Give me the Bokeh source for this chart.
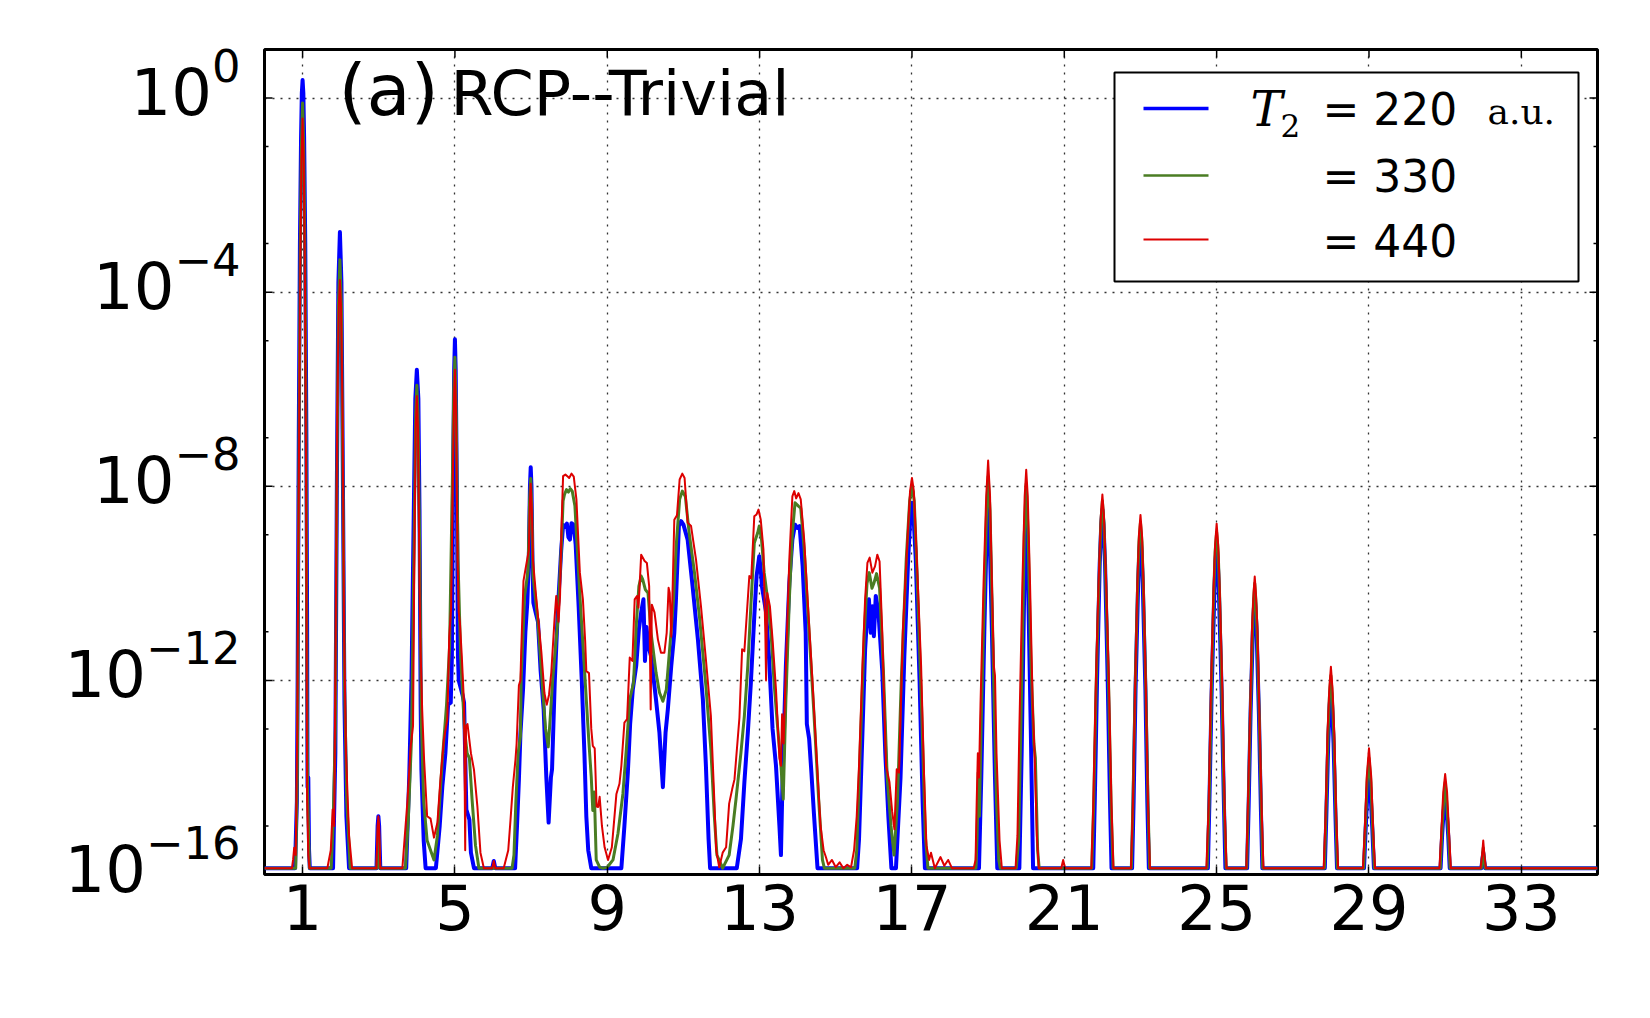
from bokeh.plotting import figure
from bokeh.models import (ColumnDataSource, Range1d, LogAxis, LinearAxis, FixedTicker, Label, Grid,
                          LogScale)
from bokeh.embed import file_html
from bokeh.resources import INLINE

F = -15.87  # noise floor (log10 intensity)

# (harmonic order, log10 intensity)
blue_pts = [
    (0.0, F), (0.8, F), (0.85, -14.5), (0.87, -12.0), (0.9, -7.0), (0.93, -3.0), (0.96, -0.8), (0.98, 0.1),
    (1.0, 0.37), (1.02, 0.1), (1.04, -0.8), (1.07, -3.0), (1.1, -7.0), (1.12, -11.0), (1.13, -14.2),
    (1.15, -14.0), (1.17, -15.5), (1.19, F),
    (1.8, F), (1.86, -13.5), (1.9, -8.0), (1.94, -3.8), (1.98, -2.76), (2.02, -3.8), (2.06, -8.0),
    (2.1, -12.5), (2.15, -14.8), (2.22, F),
    (2.94, F), (2.97, -15.0), (2.99, -14.8), (3.01, -15.0), (3.04, F),
    (3.72, F), (3.8, -14.0), (3.86, -12.0), (3.92, -8.5), (3.96, -6.2), (4.0, -5.6), (4.04, -6.2),
    (4.07, -8.5), (4.1, -12.5), (4.12, -13.84), (4.18, -15.3), (4.23, F), (4.5, F), (4.6, -15.0),
    (4.67, -14.18), (4.75, -13.5), (4.82, -12.5), (4.89, -12.46), (4.92, -11.5), (4.95, -8.0),
    (4.98, -5.6), (5.0, -4.97), (5.02, -5.6), (5.05, -8.0), (5.08, -11.5), (5.1, -12.0), (5.2, -12.3),
    (5.24, -12.46), (5.3, -14.66), (5.38, -14.87), (5.42, -15.55), (5.5, F),
    (5.98, F), (6.02, -15.72), (6.06, F),
    (6.58, F), (6.63, -15.0), (6.68, -14.04), (6.72, -13.1), (6.79, -12.16), (6.85, -11.0), (6.9, -10.4),
    (6.94, -9.5), (6.97, -8.0), (6.99, -7.61), (7.01, -8.0), (7.04, -9.8), (7.06, -10.4), (7.12, -10.6),
    (7.18, -10.79), (7.25, -11.8), (7.33, -12.6), (7.4, -14.0), (7.46, -14.93), (7.52, -14.0),
    (7.55, -13.83), (7.62, -12.05), (7.7, -10.58), (7.79, -9.32), (7.84, -8.8), (7.88, -8.84),
    (7.94, -8.77), (7.98, -9.05), (8.02, -9.1), (8.06, -8.76), (8.12, -8.8), (8.17, -9.2), (8.25, -10.5),
    (8.33, -12.0), (8.4, -13.5), (8.45, -14.8), (8.5, -15.5), (8.58, F),
    (9.37, F), (9.45, -15.0), (9.54, -13.9), (9.6, -12.9), (9.67, -12.19), (9.76, -11.7), (9.83, -10.95),
    (9.89, -10.6), (9.95, -10.33), (9.99, -11.6), (10.03, -10.9), (10.08, -11.3), (10.15, -11.5),
    (10.28, -12.4), (10.37, -13.08), (10.46, -14.2), (10.53, -13.08), (10.59, -12.6), (10.68, -11.7),
    (10.76, -11.02), (10.8, -10.4), (10.88, -8.82), (10.94, -8.72), (11.0, -8.79), (11.11, -9.1),
    (11.24, -10.06), (11.38, -11.16), (11.51, -12.39), (11.59, -13.76), (11.66, -15.27), (11.7, F),
    (12.4, F), (12.51, -15.27), (12.6, -14.1), (12.69, -13.08), (12.77, -12.05), (12.86, -10.68),
    (12.92, -9.85), (12.99, -9.44), (13.03, -9.72), (13.06, -10.06), (13.17, -10.6), (13.25, -11.57),
    (13.34, -13.0), (13.43, -13.76), (13.52, -15.0), (13.56, -15.6), (13.6, -14.1), (13.69, -11.7),
    (13.78, -9.99), (13.86, -9.1), (13.93, -8.79), (13.99, -8.86), (14.05, -8.82), (14.13, -9.65),
    (14.21, -11.02), (14.24, -12.9), (14.3, -13.2), (14.36, -13.9), (14.43, -14.79), (14.52, F),
    (15.56, F), (15.61, -15.27), (15.7, -13.08), (15.77, -11.36), (15.83, -10.6), (15.87, -10.33),
    (15.92, -11.02), (15.96, -10.47), (16.0, -11.09), (16.05, -10.26), (16.12, -10.6), (16.22, -11.8),
    (16.3, -13.5), (16.38, -14.8), (16.46, F), (16.58, F), (16.7, -14.0), (16.8, -11.5), (16.9, -9.5),
    (16.96, -8.6), (17.0, -8.34), (17.04, -8.6), (17.1, -9.5), (17.2, -12.0), (17.28, -14.5), (17.34, F),
    (18.76, F), (18.82, -14.0), (18.9, -11.0), (18.96, -9.0), (19.0, -8.3), (19.04, -9.0), (19.1, -11.0),
    (19.18, -14.0), (19.24, F),
    (19.82, F), (19.88, -13.5), (19.95, -10.0), (20.0, -8.55), (20.05, -10.0), (20.12, -13.0), (20.18, F),
    (21.76, F), (21.8, -14.5), (21.86, -12.0), (21.93, -9.6), (21.97, -8.8), (22.0, -8.48), (22.03, -8.8),
    (22.07, -9.6), (22.14, -12.0), (22.2, -14.5), (22.24, F),
    (22.78, F), (22.82, -14.5), (22.87, -12.2), (22.94, -10.0), (22.97, -9.35), (23.0, -9.05),
    (23.03, -9.35), (23.06, -10.0), (23.13, -12.2), (23.18, -14.5), (23.22, F),
    (24.77, F), (24.81, -14.5), (24.87, -12.2), (24.94, -10.2), (24.97, -9.55), (25.0, -9.25),
    (25.03, -9.55), (25.06, -10.2), (25.13, -12.2), (25.19, -14.5), (25.23, F),
    (25.8, F), (25.84, -14.6), (25.89, -12.7), (25.95, -11.0), (25.98, -10.5), (26.0, -10.3),
    (26.02, -10.5), (26.05, -11.0), (26.11, -12.7), (26.16, -14.6), (26.2, F),
    (27.84, F), (27.88, -14.8), (27.93, -13.3), (27.97, -12.5), (28.0, -12.2), (28.03, -12.5),
    (28.07, -13.3), (28.12, -14.8), (28.16, F),
    (28.87, F), (28.91, -15.1), (28.96, -14.3), (29.0, -13.95), (29.04, -14.3), (29.09, -15.1), (29.13, F),
    (30.88, F), (30.92, -15.2), (30.96, -14.7), (31.0, -14.45), (31.04, -14.7), (31.08, -15.2), (31.12, F),
    (31.95, F), (32.0, -15.55), (32.05, F),
    (35.0, F),
]

green_pts = [
    (0.0, F), (0.82, F), (0.86, -14.0), (0.88, -11.5), (0.91, -6.5), (0.94, -3.0), (0.97, -1.0),
    (1.0, -0.1), (1.03, -1.0), (1.06, -3.0), (1.09, -6.5), (1.11, -11.0), (1.13, -14.3), (1.16, -15.2),
    (1.18, F),
    (1.75, F), (1.8, -15.0), (1.86, -13.0), (1.9, -8.0), (1.94, -4.3), (1.98, -3.33), (2.02, -4.3),
    (2.06, -8.0), (2.1, -12.0), (2.16, -14.5), (2.25, F),
    (2.95, F), (2.99, -15.0), (3.03, F),
    (3.7, F), (3.78, -14.8), (3.86, -13.2), (3.93, -9.0), (3.97, -6.5), (4.0, -5.92), (4.03, -6.5),
    (4.07, -9.0), (4.12, -12.9), (4.18, -14.5), (4.27, -15.3), (4.45, -15.7), (4.54, -15.2),
    (4.67, -13.63), (4.78, -12.5), (4.86, -11.3), (4.93, -8.0), (4.97, -6.0), (5.0, -5.34), (5.03, -6.3),
    (5.08, -9.5), (5.15, -11.5), (5.25, -13.0), (5.32, -13.5), (5.38, -13.6), (5.45, -14.45),
    (5.54, -15.4), (5.63, F),
    (6.5, F), (6.55, -15.6), (6.6, -14.5), (6.66, -13.5), (6.72, -13.15), (6.74, -11.95), (6.83, -10.26),
    (6.92, -9.74), (6.96, -8.3), (6.99, -7.84), (7.02, -8.5), (7.05, -9.84), (7.18, -10.79),
    (7.31, -12.26), (7.38, -13.0), (7.45, -13.37), (7.5, -12.8), (7.57, -11.95), (7.7, -10.79),
    (7.79, -9.32), (7.84, -8.3), (7.88, -8.16), (7.93, -8.07), (7.98, -8.12), (8.03, -8.05), (8.08, -8.1),
    (8.15, -8.4), (8.22, -9.4), (8.3, -10.5), (8.38, -11.5), (8.45, -12.4), (8.52, -13.3), (8.58, -14.0),
    (8.62, -14.68), (8.66, -14.3), (8.71, -15.7), (8.8, -15.85), (8.89, F), (9.0, -15.85), (9.15, -15.7),
    (9.28, -15.16), (9.41, -14.34), (9.5, -13.42), (9.59, -12.39), (9.69, -12.05), (9.76, -10.88),
    (9.83, -10.06), (9.89, -9.85), (9.93, -9.92), (10.0, -10.13), (10.07, -10.2), (10.15, -11.02),
    (10.28, -11.84), (10.37, -12.25), (10.46, -12.43), (10.55, -12.19), (10.63, -11.43), (10.68, -10.95),
    (10.74, -10.33), (10.81, -9.23), (10.9, -8.27), (10.97, -8.1), (11.05, -8.21), (11.15, -8.96),
    (11.29, -9.78), (11.42, -10.68), (11.59, -12.12), (11.72, -13.42), (11.81, -14.79), (11.88, -15.6),
    (12.03, F), (12.2, -15.6), (12.3, -15.0), (12.38, -14.45), (12.51, -13.49), (12.6, -12.73),
    (12.69, -11.7), (12.77, -10.47), (12.86, -9.17), (12.95, -8.96), (12.99, -8.82), (13.05, -9.1),
    (13.12, -9.78), (13.21, -10.33), (13.3, -11.02), (13.38, -12.05), (13.47, -12.94), (13.56, -13.76),
    (13.62, -14.45), (13.69, -12.39), (13.78, -10.33), (13.86, -8.96), (13.93, -8.34), (14.02, -8.41),
    (14.08, -8.45), (14.17, -9.3), (14.3, -11.02), (14.43, -12.73), (14.55, -14.45), (14.65, -15.7),
    (14.7, F),
    (15.5, F), (15.55, -15.5), (15.65, -13.2), (15.75, -11.0), (15.82, -10.0), (15.88, -9.78),
    (15.95, -10.1), (16.0, -10.0), (16.07, -9.8), (16.15, -10.1), (16.25, -11.8), (16.35, -14.0),
    (16.45, -15.0), (16.53, -15.6), (16.62, -14.5), (16.72, -12.0), (16.85, -9.5), (16.94, -8.3),
    (17.0, -8.0), (17.06, -8.3), (17.12, -9.5), (17.25, -12.5), (17.35, -15.2), (17.42, F),
    (18.68, F), (18.71, -15.2), (18.74, -13.9), (18.77, -14.8), (18.82, -12.8), (18.9, -10.2),
    (18.96, -8.5), (19.0, -7.8), (19.05, -8.5), (19.1, -10.3), (19.16, -12.5), (19.22, -14.5),
    (19.28, -15.7), (19.32, F),
    (19.74, F), (19.8, -15.3), (19.87, -12.5), (19.95, -9.0), (20.0, -7.95), (20.05, -9.0),
    (20.12, -11.5), (20.2, -13.3), (20.24, -13.6), (20.3, -15.5), (20.34, F),
    (21.72, F), (21.77, -14.6), (21.84, -12.0), (21.91, -10.0), (21.96, -8.75), (22.0, -8.3),
    (22.04, -8.75), (22.09, -10.0), (22.16, -12.0), (22.23, -14.6), (22.28, F),
    (22.76, F), (22.8, -14.6), (22.86, -12.2), (22.92, -10.2), (22.96, -9.15), (23.0, -8.75),
    (23.04, -9.15), (23.08, -10.2), (23.14, -12.2), (23.2, -14.6), (23.24, F),
    (24.75, F), (24.8, -14.6), (24.86, -12.3), (24.92, -10.3), (24.96, -9.35), (25.0, -8.95),
    (25.04, -9.35), (25.08, -10.3), (25.14, -12.3), (25.2, -14.6), (25.25, F),
    (25.79, F), (25.83, -14.6), (25.88, -12.8), (25.94, -11.0), (25.97, -10.35), (26.0, -10.0),
    (26.03, -10.35), (26.06, -11.0), (26.12, -12.8), (26.17, -14.6), (26.21, F),
    (27.83, F), (27.87, -14.8), (27.92, -13.2), (27.96, -12.35), (28.0, -11.9), (28.04, -12.35),
    (28.08, -13.2), (28.13, -14.8), (28.17, F),
    (28.86, F), (28.9, -15.1), (28.95, -14.1), (29.0, -13.6), (29.05, -14.1), (29.1, -15.1), (29.14, F),
    (30.87, F), (30.91, -15.2), (30.96, -14.5), (31.0, -14.1), (31.04, -14.5), (31.09, -15.2), (31.13, F),
    (31.95, F), (32.0, -15.45), (32.05, F),
    (35.0, F),
]

red_pts = [
    (0.0, F), (0.72, F), (0.75, -15.7), (0.78, -15.45), (0.82, -15.6), (0.86, -13.0), (0.9, -8.0),
    (0.94, -3.5), (0.97, -1.3), (1.0, -0.42), (1.03, -1.3), (1.06, -3.5), (1.09, -7.5), (1.11, -12.0),
    (1.12, -14.45), (1.15, -15.6), (1.18, F),
    (1.65, F), (1.74, -15.5), (1.79, -14.66), (1.83, -15.0), (1.87, -11.0), (1.91, -6.5), (1.95, -4.3),
    (1.98, -3.75), (2.01, -4.3), (2.05, -6.5), (2.09, -11.0), (2.14, -13.5), (2.22, -15.2), (2.3, F),
    (2.94, F), (2.97, -15.0), (2.99, -14.8), (3.01, -15.0), (3.04, F),
    (3.62, F), (3.75, -14.52), (3.84, -13.35), (3.9, -12.94), (3.94, -9.0), (3.97, -6.8), (4.0, -6.14),
    (4.03, -6.8), (4.07, -10.0), (4.1, -11.43), (4.14, -12.6), (4.19, -13.63), (4.27, -14.8),
    (4.36, -14.85), (4.45, -15.24), (4.54, -14.93), (4.62, -14.04), (4.71, -13.22), (4.8, -12.8),
    (4.85, -11.1), (4.9, -10.5), (4.95, -7.5), (4.98, -6.1), (5.0, -5.6), (5.03, -6.5), (5.07, -9.5),
    (5.1, -10.6), (5.13, -10.8), (5.18, -11.5), (5.24, -12.5), (5.27, -15.5), (5.29, -12.94),
    (5.33, -12.9), (5.42, -13.5), (5.5, -13.84), (5.59, -14.6), (5.67, -15.55), (5.76, F),
    (5.98, F), (6.02, -15.72), (6.06, F),
    (6.28, F), (6.4, -15.5), (6.46, -14.87), (6.52, -14.2), (6.59, -13.63), (6.62, -13.3), (6.68, -12.1),
    (6.72, -12.0), (6.74, -11.42), (6.8, -9.95), (6.87, -9.63), (6.94, -9.32), (6.97, -8.3), (6.99, -7.95),
    (7.02, -8.5), (7.05, -9.53), (7.13, -10.26), (7.27, -11.42), (7.35, -12.26), (7.41, -12.5),
    (7.47, -12.3), (7.53, -11.84), (7.62, -10.68), (7.66, -10.26), (7.72, -10.79), (7.76, -10.26),
    (7.8, -8.8), (7.84, -7.79), (7.9, -7.76), (7.96, -7.8), (8.0, -7.83), (8.06, -7.74), (8.12, -7.8),
    (8.19, -8.27), (8.28, -9.78), (8.36, -10.33), (8.42, -11.2), (8.45, -11.81), (8.52, -11.85),
    (8.58, -13.0), (8.62, -13.35), (8.67, -13.4), (8.72, -14.6), (8.76, -14.61), (8.8, -14.4),
    (8.86, -15.0), (8.93, -15.44), (9.02, -15.7), (9.12, -15.44), (9.24, -14.34), (9.32, -14.13),
    (9.37, -13.76), (9.45, -12.87), (9.52, -12.8), (9.59, -11.53), (9.66, -11.6), (9.72, -10.33),
    (9.78, -10.26), (9.82, -10.5), (9.89, -9.41), (9.98, -9.54), (10.04, -9.58), (10.1, -10.06),
    (10.14, -12.6), (10.17, -10.44), (10.24, -10.6), (10.33, -11.16), (10.41, -11.43), (10.5, -11.43),
    (10.56, -11.02), (10.61, -10.09), (10.64, -10.2), (10.68, -11.1), (10.72, -10.0), (10.76, -8.69),
    (10.83, -8.6), (10.9, -7.86), (10.97, -7.74), (11.03, -7.83), (11.11, -8.75), (11.2, -8.82),
    (11.33, -9.51), (11.46, -10.47), (11.59, -11.57), (11.72, -12.73), (11.81, -14.45), (11.86, -15.5),
    (11.94, -15.85), (12.03, -15.55), (12.12, -15.44), (12.2, -14.54), (12.28, -14.24), (12.34, -14.04),
    (12.47, -12.77), (12.54, -11.36), (12.6, -11.4), (12.66, -10.68), (12.73, -9.85), (12.78, -9.9),
    (12.86, -8.62), (12.92, -8.58), (12.97, -8.48), (13.03, -8.69), (13.1, -9.3), (13.15, -11.02),
    (13.17, -12.0), (13.2, -10.2), (13.27, -10.47), (13.34, -11.16), (13.43, -12.19), (13.52, -13.6),
    (13.56, -13.76), (13.59, -12.7), (13.63, -13.3), (13.69, -11.7), (13.78, -9.51), (13.86, -8.21),
    (13.91, -8.1), (13.96, -8.25), (14.02, -8.14), (14.08, -8.27), (14.17, -9.1), (14.26, -10.33),
    (14.39, -12.05), (14.52, -13.9), (14.6, -15.0), (14.68, -15.5), (14.74, -15.64), (14.8, -15.8),
    (14.9, -15.7), (15.0, -15.85), (15.1, -15.75), (15.2, F), (15.3, -15.8), (15.4, -15.85),
    (15.48, -15.5), (15.55, -14.8), (15.61, -13.76), (15.7, -11.7), (15.77, -10.33), (15.83, -9.58),
    (15.89, -9.47), (15.96, -9.78), (16.03, -9.65), (16.09, -9.41), (16.15, -9.55), (16.22, -11.0),
    (16.32, -13.76), (16.41, -14.1), (16.48, -14.7), (16.54, -15.07), (16.6, -13.83), (16.66, -13.9),
    (16.76, -11.0), (16.89, -8.96), (16.95, -8.1), (17.0, -7.83), (17.05, -8.1), (17.1, -8.96),
    (17.24, -11.7), (17.32, -14.0), (17.38, -15.4), (17.45, -15.7), (17.5, -15.55), (17.6, F),
    (17.75, -15.64), (17.85, -15.82), (17.95, -15.7), (18.05, F),
    (18.62, F), (18.67, -15.7), (18.7, -14.5), (18.73, -13.5), (18.76, -14.0), (18.8, -12.5),
    (18.88, -10.0), (18.95, -8.2), (19.0, -7.47), (19.05, -8.2), (19.1, -10.0), (19.15, -11.7),
    (19.18, -11.9), (19.22, -13.5), (19.3, -15.3), (19.36, F),
    (19.72, F), (19.77, -15.2), (19.82, -13.0), (19.9, -10.0), (19.96, -8.2), (20.0, -7.66), (20.04, -8.2),
    (20.1, -10.0), (20.17, -12.5), (20.22, -13.5), (20.28, -15.2), (20.33, F),
    (20.92, F), (20.97, -15.7), (21.02, F),
    (21.71, F), (21.76, -14.6), (21.83, -12.0), (21.9, -10.0), (21.96, -8.6), (22.0, -8.17), (22.04, -8.6),
    (22.1, -10.0), (22.17, -12.0), (22.24, -14.6), (22.29, F),
    (22.75, F), (22.8, -14.6), (22.86, -12.1), (22.92, -10.0), (22.96, -9.0), (23.0, -8.59), (23.04, -9.0),
    (23.08, -10.0), (23.14, -12.1), (23.2, -14.6), (23.25, F),
    (24.73, F), (24.79, -14.6), (24.85, -12.2), (24.92, -10.1), (24.96, -9.2), (25.0, -8.77),
    (25.04, -9.2), (25.08, -10.1), (25.15, -12.2), (25.21, -14.6), (25.26, F),
    (25.78, F), (25.82, -14.6), (25.88, -12.6), (25.93, -10.9), (25.97, -10.2), (26.0, -9.86),
    (26.03, -10.2), (26.07, -10.9), (26.12, -12.6), (26.18, -14.6), (26.23, F),
    (27.81, F), (27.86, -14.8), (27.91, -13.1), (27.96, -12.15), (28.0, -11.72), (28.04, -12.15),
    (28.09, -13.1), (28.14, -14.8), (28.19, F),
    (28.84, F), (28.89, -15.1), (28.94, -14.0), (29.0, -13.4), (29.06, -14.0), (29.11, -15.1), (29.16, F),
    (30.85, F), (30.9, -15.1), (30.95, -14.3), (31.0, -13.93), (31.05, -14.3), (31.1, -15.1), (31.15, F),
    (31.93, F), (31.97, -15.6), (32.0, -15.3), (32.03, -15.6), (32.07, F),
    (35.0, F),
]

x_ticks = [1, 5, 9, 13, 17, 21, 25, 29, 33]
y_major = [1e-16, 1e-12, 1e-8, 1e-4, 1e0]
y_minor = [1e-15, 1e-13, 1e-11, 1e-9, 1e-7, 1e-5, 1e-3, 1e-1]
t2_values = ["220", "330", "440"]
series_colors = ["#0000ff", "#4a7d23", "#dd0000"]
series_widths = [4, 3, 2]

# ---- layout (page pixels; the page has no margin) ----
W, H = 1642, 1010
BL, BR, BT, BB = 264, 45, 49, 136
X0, X1 = 0.0, 35.0
LY0, LY1 = -16.0, 1.0
FL, FT = BL, BT
FW, FH = W - BL - BR, H - BT - BB
FR, FB = FL + FW, FT + FH
LABEL_SHIFT = 0.36  # decades: centres the "10" of each y label on its tick
BASE_FIX = 0.32     # em: Label anchor sits this far above the glyph baseline


def dx(px):
    return X0 + (px - FL) / FW * (X1 - X0)


def dy(py):
    return 10 ** (LY1 - (py - FT) / FH * (LY1 - LY0))


def text_at(px, py_base, txt, font, size, style="normal"):
    p.add_layout(Label(x=dx(px), y=dy(py_base - BASE_FIX * size), text=txt, text_font=font,
                       text_font_style=style, text_font_size=f"{size}px",
                       text_baseline="alphabetic", text_align="left", text_color="black"))


p = figure(width=W, height=H, x_range=Range1d(X0, X1), y_range=Range1d(10 ** LY0, 10 ** LY1),
           y_axis_type="log", x_axis_location=None, y_axis_location=None,
           output_backend="svg", toolbar_location=None,
           min_border_left=BL, min_border_right=BR, min_border_top=BT, min_border_bottom=BB)
p.center = [r for r in p.center if not isinstance(r, Grid)]
p.background_fill_color = "white"
p.border_fill_color = "white"
p.outline_line_color = "black"
p.outline_line_width = 3
p.extra_y_ranges = {"lab": Range1d(10 ** (LY0 - LABEL_SHIFT), 10 ** (LY1 - LABEL_SHIFT))}
p.extra_y_scales = {"lab": LogScale()}

# bottom axis (labels + inward ticks)
xax = LinearAxis(ticker=FixedTicker(ticks=x_ticks), axis_line_color=None,
                 major_tick_in=8, major_tick_out=0, major_tick_line_width=1.5,
                 major_tick_line_color="black", major_label_text_font="DejaVu Sans",
                 major_label_text_font_size="62px", major_label_text_color="black",
                 major_label_standoff=9)
p.add_layout(xax, "below")

# left axis: labels only (ticks drawn below)
yax = LogAxis(y_range_name="lab", ticker=FixedTicker(ticks=y_major), axis_line_color=None,
              major_tick_in=0, major_tick_out=0, minor_tick_in=0, minor_tick_out=0,
              major_tick_line_color=None, minor_tick_line_color=None,
              major_label_text_font="DejaVu Sans", major_label_text_font_size="64px",
              major_label_text_color="black", major_label_standoff=24)
p.add_layout(yax, "left")

# grid
p.add_layout(Grid(dimension=0, ticker=FixedTicker(ticks=x_ticks), grid_line_color="black",
                  grid_line_alpha=0.8, grid_line_width=1.3, grid_line_dash="2 6"))
p.add_layout(Grid(dimension=1, ticker=FixedTicker(ticks=y_major), grid_line_color="black",
                  grid_line_alpha=0.8, grid_line_width=1.3, grid_line_dash="2 6"))

# inward tick marks on left, right and top edges
ymaj_len, ymin_len = 8, 4
yl = y_major + y_minor
ylen = [ymaj_len] * len(y_major) + [ymin_len] * len(y_minor)
p.segment(x0=[X0] * len(yl), x1=[dx(FL + L) for L in ylen], y0=yl, y1=yl,
          line_color="black", line_width=1.5)
p.segment(x0=[dx(FR - L) for L in ylen], x1=[X1] * len(yl), y0=yl, y1=yl,
          line_color="black", line_width=1.5)
p.segment(x0=x_ticks, x1=x_ticks, y0=[10 ** LY1] * len(x_ticks), y1=[dy(FT + 8)] * len(x_ticks),
          line_color="black", line_width=1.5)

for pts, col, lw in zip([blue_pts, green_pts, red_pts], series_colors, series_widths):
    src = ColumnDataSource(dict(x=[a for a, b in pts], y=[10 ** b for a, b in pts]))
    p.line("x", "y", source=src, line_color=col, line_width=lw, line_join="round")

# legend box and entries
p.quad(left=[dx(1114)], right=[dx(1578)], top=[dy(72)], bottom=[dy(281)],
       fill_color="white", line_color="black", line_width=2)
leg_rows = [108, 175, 239]
leg_base = [123, 190, 255]
for yy, col, lw in zip(leg_rows, series_colors, [3.5, 2.5, 2]):
    p.line(x=[dx(1143), dx(1208)], y=[dy(yy), dy(yy)], line_color=col, line_width=lw)
for yb, val in zip(leg_base, t2_values):
    text_at(1322, yb, "= " + val, "DejaVu Sans", 44)
text_at(1250, 124, "T", "DejaVu Serif", 48, "italic")
text_at(1280, 135, "2", "DejaVu Serif", 31)
text_at(1487, 123, "a.u.", "DejaVu Serif", 36)

# panel title
text_at(338, 113, "(a)", "DejaVu Sans", 72)
text_at(450, 113, "RCP--Trivial", "DejaVu Sans", 62)

open("out.html", "w").write(file_html(p, INLINE))
